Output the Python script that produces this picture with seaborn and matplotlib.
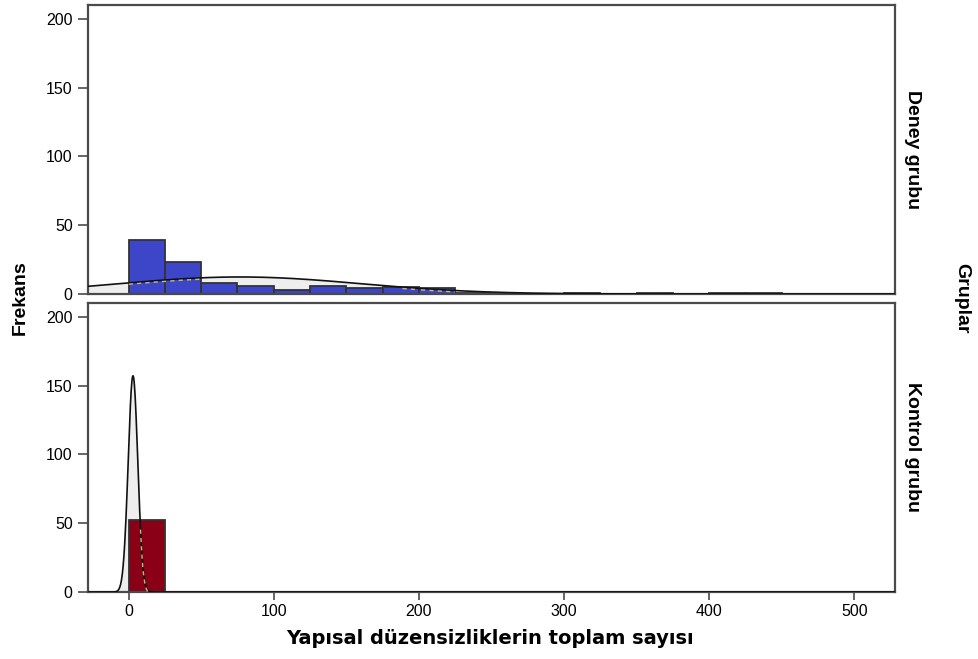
import numpy as np
import pandas as pd
import matplotlib
matplotlib.use("Agg")
import matplotlib.pyplot as plt
import seaborn as sns

# Histogram bins (width 25) and frequencies per group
bin_edges = [0, 25, 50, 75, 100, 125, 150, 175, 200, 225, 250, 275, 300, 325,
             350, 375, 400, 425, 450]
deney_counts = [39, 23, 8, 6, 3, 6, 4, 5, 4, 1, 0, 0, 1, 0, 1, 0, 1, 1]
kontrol_counts = [52, 0, 0, 0, 0, 0, 0, 0, 0, 0, 0, 0, 0, 0, 0, 0, 0, 0]

groups = ["Deney grubu", "Kontrol grubu"]
group_counts = [deney_counts, kontrol_counts]
bar_colors = ["#3d45c9", "#8a0016"]

# Normal curve parameters per group (mean, standard deviation)
curve_means = [76.7, 3.0]
curve_sds = [83.0, 3.3]

yticks = [0, 50, 100, 150, 200]
xticks = [0, 100, 200, 300, 400, 500]
x_label = "Yapısal düzensizliklerin toplam sayısı"
y_label = "Frekans"
facet_title = "Gruplar"

sns.set_theme(style="white")
plt.rcParams["font.family"] = ["Liberation Sans", "DejaVu Sans"]
plt.rcParams["text.color"] = "black"
plt.rcParams["xtick.color"] = "black"
plt.rcParams["ytick.color"] = "black"

fig = plt.figure(figsize=(9.79, 6.59), dpi=100)
left, right = 88 / 979, 895 / 979
panel_boxes = [
    (left, 1 - 294 / 659, right - left, (294 - 5) / 659),
    (left, 1 - 592 / 659, right - left, (592 - 303) / 659),
]

edges = np.array(bin_edges, dtype=float)
centers = (edges[:-1] + edges[1:]) / 2
bw = 25.0
frame_col = "#4a4a4a"

for i, (g, counts) in enumerate(zip(groups, group_counts)):
    ax = fig.add_axes(panel_boxes[i])
    counts = np.array(counts, dtype=float)
    n = counts.sum()

    # normal curve scaled to frequency
    xs = np.linspace(-28, 528, 2000)
    mu, sd = curve_means[i], curve_sds[i]
    ys = n * bw * np.exp(-0.5 * ((xs - mu) / sd) ** 2) / (sd * np.sqrt(2 * np.pi))
    ax.fill_between(xs, 0, ys, color="#eeeeee", zorder=1, linewidth=0)

    df = pd.DataFrame({"value": centers, "count": counts})
    sns.histplot(data=df, x="value", weights="count", bins=list(bin_edges),
                 ax=ax, color=bar_colors[i], alpha=1, edgecolor="#333333",
                 linewidth=1.3, zorder=2)

    ax.plot(xs, ys, color="#111111", linewidth=1.2, zorder=3)

    # curve segments lying inside bars get a light dashed overlay
    idx = np.clip(np.searchsorted(edges, xs, side="right") - 1, 0, len(counts) - 1)
    inside = (xs >= edges[0]) & (xs <= edges[-1]) & (ys < counts[idx])
    ys_in = np.where(inside, ys, np.nan)
    ax.plot(xs, ys_in - 1.0, color="#c8b878", linewidth=1.0,
            linestyle=(0, (3, 3)), zorder=4)

    ax.set_xlim(-28, 528)
    ax.set_ylim(0, 210)
    ax.set_yticks(yticks)
    ax.set_xticks(xticks)
    ax.set_xlabel("")
    ax.set_ylabel("")
    ax.tick_params(axis="y", direction="out", length=7, width=1.2,
                   color=frame_col, labelcolor="black", labelsize=11.5,
                   pad=4, left=True)
    ax.tick_params(axis="x", direction="out", length=6, width=1.2,
                   color=frame_col, labelcolor="black", labelsize=11.5,
                   pad=3, bottom=True)
    if i == 0:
        ax.tick_params(axis="x", bottom=False, labelbottom=False)
    for sp in ax.spines.values():
        sp.set_color(frame_col)
        sp.set_linewidth(1.6)
        sp.set_visible(True)

    y_mid = panel_boxes[i][1] + panel_boxes[i][3] / 2
    fig.text(913 / 979, y_mid, g, rotation=-90, ha="center", va="center",
             fontsize=14, fontweight="bold", color="black")

fig.text(20 / 979, 1 - 298 / 659, y_label, rotation=90, ha="center",
         va="center", fontsize=14, fontweight="bold", color="black")
fig.text(962 / 979, 1 - 298 / 659, facet_title, rotation=-90, ha="center",
         va="center", fontsize=14, fontweight="bold", color="black")
fig.text(490 / 979, 1 - 638 / 659, x_label, ha="center", va="center",
         fontsize=14, fontweight="bold", color="black",
         family=["DejaVu Sans"])

fig.savefig("out.png", dpi=100, facecolor="white")
